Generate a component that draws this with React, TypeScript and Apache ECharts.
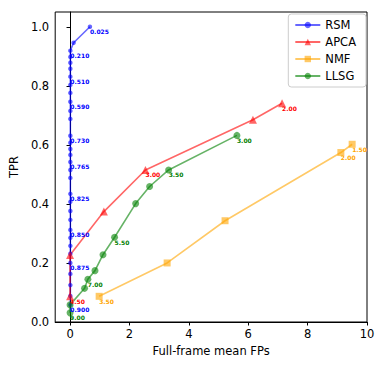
import React, { useEffect, useRef } from "react";
import * as echarts from "echarts";

// RSM (thresholds as labels)
const rsmFP = [0.67, 0.12, 0.01, 0.01, 0.01, 0.01, 0.01, 0.01, 0.01, 0.01, 0.01, 0.01, 0.01, 0.01, 0.01, 0.01, 0.01, 0.01, 0.01, 0.01, 0.01, 0.01, 0.01, 0.01, 0.01, 0.01, 0.01, 0.01, 0.01, 0.01, 0.01, 0.01];
const rsmTPR = [1.0, 0.946, 0.919, 0.898, 0.878, 0.858, 0.831, 0.803, 0.776, 0.746, 0.715, 0.688, 0.631, 0.607, 0.586, 0.566, 0.542, 0.515, 0.488, 0.434, 0.407, 0.376, 0.346, 0.312, 0.285, 0.258, 0.231, 0.2, 0.163, 0.125, 0.088, 0.058];
const rsmLabels = ["0.025", "", "0.210", "", "", "", "0.510", "", "", "0.590", "", "", "0.730", "", "", "", "0.765", "", "", "0.825", "", "", "", "0.850", "", "", "", "0.875", "", "", "", "0.900"];

const apcaFP = [0, 0, 1.14, 2.54, 6.16, 7.14];
const apcaTPR = [0.087, 0.227, 0.374, 0.515, 0.685, 0.741];
const apcaLabels = ["4.50", "", "", "3.00", "", "2.00"];

const nmfFP = [0.98, 3.27, 5.22, 9.12, 9.5];
const nmfTPR = [0.087, 0.2, 0.343, 0.574, 0.602];
const nmfLabels = ["3.50", "", "", "2.00", "1.50"];

const llsgFP = [0, 0, 0.49, 0.6, 0.84, 1.11, 1.5, 2.21, 2.68, 3.32, 5.62];
const llsgTPR = [0.031, 0.058, 0.114, 0.145, 0.174, 0.228, 0.287, 0.401, 0.459, 0.515, 0.632];
const llsgLabels = ["9.00", "", "", "7.00", "", "", "5.50", "", "", "3.50", "3.00"];

const xTicks = [0, 2, 4, 6, 8, 10];
const yTicks = [0, 0.2, 0.4, 0.6, 0.8, 1.0];

const FONT = "DejaVu Sans";

function makeSeries(
  name: string,
  xs: number[],
  ys: number[],
  labels: string[],
  rgb: string,
  labelColor: string,
  symbol: string,
  symbolSize: number
) {
  return {
    name,
    type: "line",
    data: xs.map((x, i) => [x, ys[i]]),
    symbol,
    symbolSize,
    showAllSymbol: true,
    clip: false,
    lineStyle: { color: `rgba(${rgb},0.6)`, width: 1.6 },
    itemStyle: { color: `rgba(${rgb},0.6)`, borderWidth: 0 },
    label: {
      show: true,
      position: "inside",
      align: "left",
      verticalAlign: "top",
      offset: [0, 2],
      color: labelColor,
      fontFamily: FONT,
      fontSize: 6,
      fontWeight: "bold",
      formatter: (p: any) => labels[p.dataIndex] || "",
    },
    emphasis: { disabled: true },
    z: 2,
  };
}

export default function App() {
  const ref = useRef<HTMLDivElement>(null);
  useEffect(() => {
    if (!ref.current) return;
    const chart = echarts.init(ref.current, undefined, { renderer: "svg" });
    const axisCommon = {
      axisLine: { show: true, lineStyle: { color: "#000", width: 1 } },
      axisTick: { show: true, length: 3.5, lineStyle: { color: "#000", width: 1 } },
      splitLine: { show: false },
    };
    chart.setOption({
      animation: false,
      textStyle: { fontFamily: FONT },
      grid: {
        left: 48,
        right: 17,
        top: 12,
        bottom: 43,
        show: true,
        borderColor: "#000",
        borderWidth: 1,
        backgroundColor: "transparent",
      },
      xAxis: {
        type: "value",
        min: -0.5,
        max: 10,
        name: "Full-frame mean FPs",
        nameLocation: "middle",
        nameGap: 22,
        nameTextStyle: { fontFamily: FONT, fontSize: 11.5, color: "#000" },
        ...axisCommon,
        axisTick: { ...axisCommon.axisTick, customValues: xTicks },
        axisLabel: {
          customValues: xTicks,
          margin: 6,
          fontFamily: FONT,
          fontSize: 11.5,
          color: "#000",
          formatter: (v: number) => String(v),
        },
      },
      yAxis: {
        type: "value",
        min: 0,
        max: 1.05,
        name: "TPR",
        nameLocation: "middle",
        nameGap: 31,
        nameTextStyle: { fontFamily: FONT, fontSize: 11.5, color: "#000" },
        ...axisCommon,
        axisTick: { ...axisCommon.axisTick, customValues: yTicks },
        axisLabel: {
          customValues: yTicks,
          margin: 6,
          fontFamily: FONT,
          fontSize: 11.5,
          color: "#000",
          formatter: (v: number) => v.toFixed(1),
        },
      },
      legend: {
        data: ["RSM", "APCA", "NMF", "LLSG"],
        orient: "vertical",
        right: 18,
        top: 14,
        backgroundColor: "#fff",
        borderColor: "#ccc",
        borderWidth: 1,
        borderRadius: 3,
        padding: [5, 10, 5, 6],
        itemWidth: 25,
        itemHeight: 8,
        itemGap: 5,
        textStyle: { fontFamily: FONT, fontSize: 11.5, color: "#000", lineHeight: 12 },
      },
      series: [
        makeSeries("RSM", rsmFP, rsmTPR, rsmLabels, "0,0,255", "#0000ff", "circle", 4.5),
        makeSeries("APCA", apcaFP, apcaTPR, apcaLabels, "255,0,0", "#ff0000", "triangle", 8),
        makeSeries("NMF", nmfFP, nmfTPR, nmfLabels, "255,165,0", "#ffa500", "rect", 7),
        makeSeries("LLSG", llsgFP, llsgTPR, llsgLabels, "0,128,0", "#008000", "circle", 7),
      ],
    });
    return () => chart.dispose();
  }, []);
  return <div ref={ref} style={{ width: 384, height: 365, margin: -8 }} />;
}
